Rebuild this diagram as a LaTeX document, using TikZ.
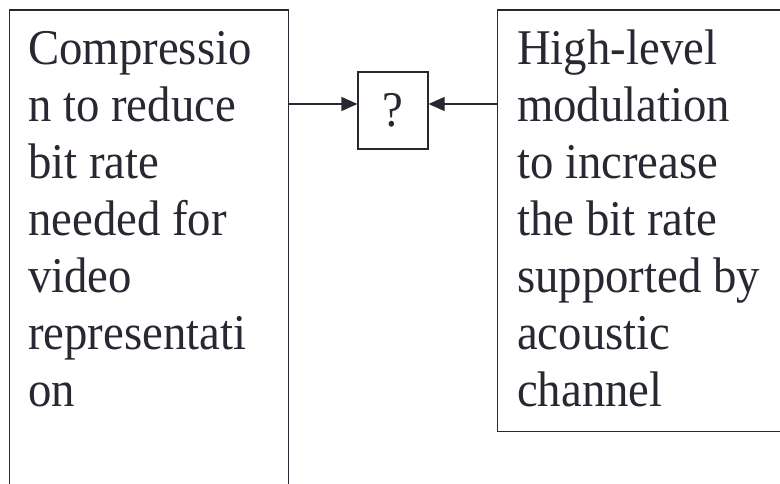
\documentclass[tikz,border=0pt]{standalone}
\usepackage{fontspec}
\setmainfont{Liberation Serif}[FakeStretch=0.935]
\usetikzlibrary{arrows.meta}
\definecolor{ink}{RGB}{40,40,50}
\tikzset{
  box/.style={draw=ink, line width=1.2pt, inner sep=0pt, anchor=north west},
  txt/.style={text=ink, inner sep=0pt, anchor=base west, align=left,
    font=\fontsize{50pt}{57pt}\selectfont},
  arr/.style={draw=ink, line width=1.2pt, -{Triangle[length=16pt,width=14pt]}}
}
\begin{document}
\begin{tikzpicture}[x=1pt,y=1pt]
\useasboundingbox (0,0) rectangle (780,484);
\clip (0,0) rectangle (780,484);
\node[box, minimum width=279pt, minimum height=490pt] (lbox) at (9,474.5) {};
\node[box, minimum width=300pt, minimum height=421.5pt] (rbox) at (497,474.5) {};
\node[draw=ink, line width=1.2pt, minimum width=70pt, minimum height=77pt, inner sep=0pt, text=ink,
  font=\fontsize{50pt}{57pt}\selectfont] (qbox) at (393,373.5) {?};
\node[txt] (ltxt) at (28,77) {Compressio\\n to reduce\\bit rate\\needed for\\video\\representati\\on};
\node[txt] (rtxt) at (517,77) {High-level\\modulation\\to increase\\the bit rate\\supported by\\acoustic\\channel};
\coordinate (ya) at (0,380);
\draw[arr] (lbox.east |- ya) -- (qbox.west |- ya);
\draw[arr] (rbox.west |- ya) -- (qbox.east |- ya);
\end{tikzpicture}
\end{document}
